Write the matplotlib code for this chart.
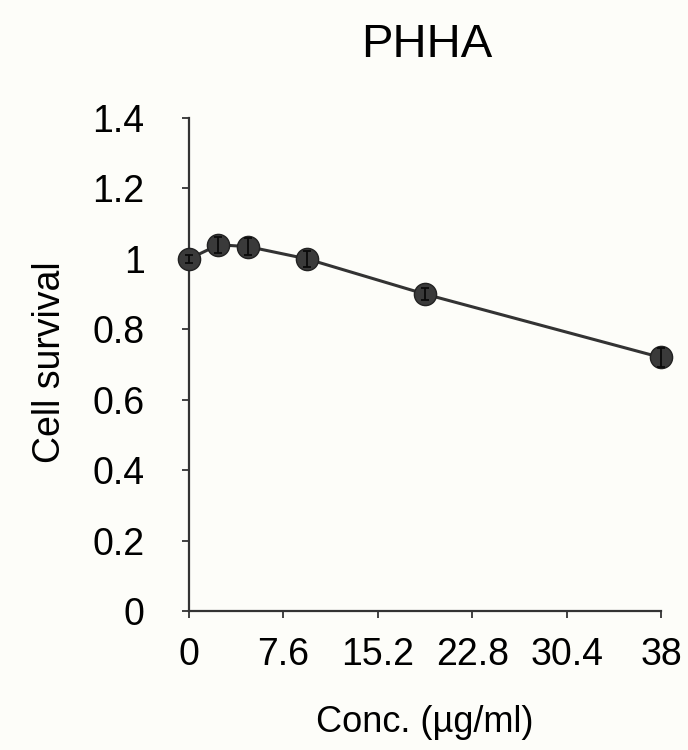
import matplotlib.pyplot as plt

plt.rcParams['font.family'] = ['Liberation Sans', 'DejaVu Sans']

conc = [0, 2.375, 4.75, 9.5, 19, 38]
survival = [1.0, 1.04, 1.035, 1.0, 0.90, 0.72]
err = [0.012, 0.022, 0.025, 0.022, 0.018, 0.028]
xticks = [0, 7.6, 15.2, 22.8, 30.4, 38]
xticklabels = ['0', '7.6', '15.2', '22.8', '30.4', '38']
yticks = [0, 0.2, 0.4, 0.6, 0.8, 1, 1.2, 1.4]
yticklabels = ['0', '0.2', '0.4', '0.6', '0.8', '1', '1.2', '1.4']

bg = '#fdfdf9'
col = '#333333'

fig = plt.figure(figsize=(6.88, 7.5), dpi=100, facecolor=bg)
ax = fig.add_axes([0.2747, 0.1853, 0.686, 0.6573], facecolor=bg)

# line + markers
ax.plot(conc, survival, color=col, lw=2.2, marker='o', ms=16,
        mfc='#3a3a3a', mec='#222222', mew=1, clip_on=False, zorder=3)
# error bars drawn over the markers
ax.errorbar(conc, survival, yerr=err, fmt='none', ecolor='#0a0a0a',
            elinewidth=1.3, capsize=3, capthick=1.3, clip_on=False, zorder=4)

ax.set_xlim(0, 38)
ax.set_ylim(0, 1.4)
ax.set_xticks(xticks)
ax.set_xticklabels(xticklabels)
ax.set_yticks(yticks)
ax.set_yticklabels(yticklabels)

for s in ['top', 'right']:
    ax.spines[s].set_visible(False)
for s in ['left', 'bottom']:
    ax.spines[s].set_color(col)
    ax.spines[s].set_linewidth(1.6)

ax.tick_params(direction='out', length=5, width=1.3, color=col, labelsize=27)
ax.tick_params(axis='y', pad=27)
ax.tick_params(axis='x', pad=14)

fig.text(0.0727, 0.517, 'Cell survival', fontsize=27, rotation=90,
         ha='center', va='center')
fig.text(0.618, 0.036, 'Conc. (\u00b5g/ml)', fontsize=26, ha='center', va='center')
fig.text(0.621, 0.94, 'PHHA', fontsize=34, ha='center', va='center')

fig.savefig('out.png', dpi=100, facecolor=bg)
